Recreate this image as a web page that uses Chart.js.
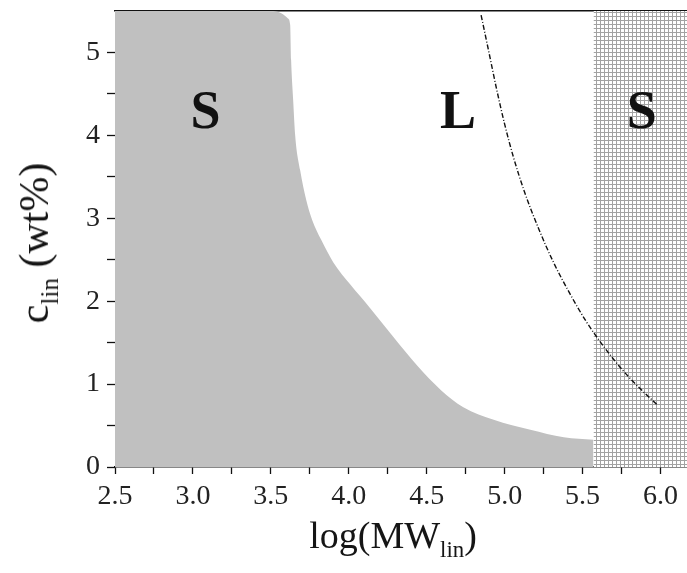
<!DOCTYPE html>
<html><head><meta charset="utf-8">
<script src="https://cdn.jsdelivr.net/npm/chart.js@4/dist/chart.umd.min.js"></script>
<style>
html,body{margin:0;padding:0;background:#fff;}
#wrap{position:relative;width:687px;height:573px;overflow:hidden;background:#fff;}
canvas{display:block;}
.t{position:absolute;font-family:"Liberation Serif","Times New Roman",serif;color:#151515;white-space:nowrap;line-height:1;}
.t sub{font-size:0.6em;vertical-align:-0.38em;line-height:0;}
#ytitle{font-size:42px;left:34px;top:243px;transform:translate(-50%,-50%) rotate(-90deg);}
#xtitle{font-size:38px;left:393px;top:535px;transform:translate(-50%,-50%);}
</style></head>
<body>
<div id="wrap">
<canvas id="c" width="687" height="573"></canvas>
<div class="t" id="ytitle">c<sub>lin</sub> (wt%)</div>
<div class="t" id="xtitle">log(MW<sub>lin</sub>)</div>
</div>
<script>
// Solid (S) phase boundary on the low-MW side (gray region)
const boundaryX = [2.5, 3.515, 3.57, 3.61, 3.624, 3.630, 3.643, 3.656, 3.688, 3.727, 3.765, 3.823, 3.90, 4.01, 4.14, 4.285, 4.44, 4.59, 4.735, 4.93, 5.165, 5.38, 5.57];
const boundaryY = [5.5, 5.5, 5.47, 5.41, 5.33, 4.91, 4.43, 4.00, 3.58, 3.22, 2.98, 2.74, 2.47, 2.20, 1.91, 1.57, 1.22, 0.93, 0.72, 0.57, 0.45, 0.36, 0.33];
// High-MW solid (hatched) region
const hatchX = [5.57, 6.17];
const hatchY = [5.5, 5.5];
// Dash-dot line
const dashX = [4.849, 4.896, 4.947, 4.998, 5.056, 5.127, 5.217, 5.313, 5.416, 5.525, 5.641, 5.756, 5.872, 5.979];
const dashY = [5.45, 5.03, 4.57, 4.15, 3.74, 3.32, 2.88, 2.47, 2.10, 1.75, 1.44, 1.17, 0.94, 0.75];
// Region labels
const regionLabels = ['S', 'L', 'S'];
const regionX = [3.08, 4.70, 5.88];
const regionY = [4.29, 4.29, 4.29];
// Ticks
const xMajorTicks = [2.5, 3.0, 3.5, 4.0, 4.5, 5.0, 5.5, 6.0];
const xTickLabels = ['2.5', '3.0', '3.5', '4.0', '4.5', '5.0', '5.5', '6.0'];
const xMinorTicks = [2.75, 3.25, 3.75, 4.25, 4.75, 5.25, 5.75];
const yMajorTicks = [0, 1, 2, 3, 4, 5];
const yTickLabels = ['0', '1', '2', '3', '4', '5'];
const yMinorTicks = [0.5, 1.5, 2.5, 3.5, 4.5];

const zip = (xs, ys) => xs.map((x, i) => ({x: x, y: ys[i]}));

function hatchPattern() {
  const p = document.createElement('canvas');
  p.width = 4; p.height = 4;
  const g = p.getContext('2d');
  g.fillStyle = '#ffffff'; g.fillRect(0, 0, 4, 4);
  g.fillStyle = '#a2a2a2';
  g.fillRect(0, 0, 1, 4);
  g.fillRect(0, 0, 4, 1);
  return document.getElementById('c').getContext('2d').createPattern(p, 'repeat');
}

function makeTicks(major, minor) {
  return major.map(v => ({value: v, major: true}))
    .concat(minor.map(v => ({value: v})))
    .sort((a, b) => a.value - b.value);
}

const regionLabelPlugin = {
  id: 'regionLabels',
  afterDatasetsDraw(chart) {
    const ctx = chart.ctx, xs = chart.scales.x, ys = chart.scales.y;
    ctx.save();
    ctx.font = 'bold 54px "Liberation Serif", "Times New Roman", serif';
    ctx.fillStyle = '#111';
    ctx.textAlign = 'center';
    ctx.textBaseline = 'alphabetic';
    regionLabels.forEach((t, i) => {
      ctx.fillText(t, xs.getPixelForValue(regionX[i]), ys.getPixelForValue(regionY[i]) + 17);
    });
    ctx.restore();
  }
};

const tickFont = {family: '"Liberation Serif", "Times New Roman", serif', size: 28};

new Chart(document.getElementById('c'), {
  type: 'scatter',
  data: {
    datasets: [
      {
        data: zip(boundaryX, boundaryY), showLine: true, fill: 'origin',
        backgroundColor: '#c0c0c0', borderColor: '#c0c0c0', borderWidth: 0,
        pointRadius: 0, cubicInterpolationMode: 'monotone', order: 3
      },
      {
        data: zip(hatchX, hatchY), showLine: true, fill: 'origin',
        backgroundColor: hatchPattern(), borderWidth: 0, borderColor: 'rgba(0,0,0,0)',
        pointRadius: 0, order: 2
      },
      {
        data: zip(dashX, dashY), showLine: true, fill: false,
        borderColor: '#111', borderWidth: 1.4, borderDash: [5, 2, 1, 2],
        pointRadius: 0, cubicInterpolationMode: 'monotone', order: 1
      }
    ]
  },
  options: {
    responsive: false, animation: false,
    layout: {padding: {top: 11, left: 0, right: 0, bottom: 0}},
    plugins: {legend: {display: false}, tooltip: {enabled: false}},
    scales: {
      x: {
        type: 'linear', position: 'bottom', min: 2.5, max: 6.17, z: 1,
        afterBuildTicks: s => { s.ticks = makeTicks(xMajorTicks, xMinorTicks); },
        afterFit: s => { s.height = 106; s.paddingLeft = 0; s.paddingRight = 0; },
        ticks: {
          autoSkip: false, maxRotation: 0, padding: 6, color: '#222', font: tickFont,
          callback: v => { const i = xMajorTicks.indexOf(v); return i >= 0 ? xTickLabels[i] : ''; }
        },
        grid: {drawOnChartArea: false, drawTicks: true, tickLength: 7, tickColor: '#111', tickWidth: 1.3},
        border: {display: true, color: '#111', width: 1.5}
      },
      x2: {
        type: 'linear', position: 'top', min: 2.5, max: 6.17, display: true,
        afterFit: s => { s.height = 0; s.paddingLeft = 0; s.paddingRight = 0; },
        ticks: {display: false},
        grid: {display: false, drawTicks: false},
        border: {display: true, color: '#111', width: 1.5}
      },
      y: {
        type: 'linear', position: 'left', min: 0, max: 5.5,
        afterBuildTicks: s => { s.ticks = makeTicks(yMajorTicks, yMinorTicks); },
        afterFit: s => { s.width = 115; s.paddingTop = 0; s.paddingBottom = 0; },
        ticks: {
          autoSkip: false, padding: 7, color: '#222', font: tickFont,
          callback: v => { const i = yMajorTicks.indexOf(v); return i >= 0 ? yTickLabels[i] : ''; }
        },
        grid: {drawOnChartArea: false, drawTicks: true, tickLength: 8, tickColor: '#111', tickWidth: 1.3},
        border: {display: false}
      }
    }
  },
  plugins: [regionLabelPlugin]
});
</script>
</body></html>
